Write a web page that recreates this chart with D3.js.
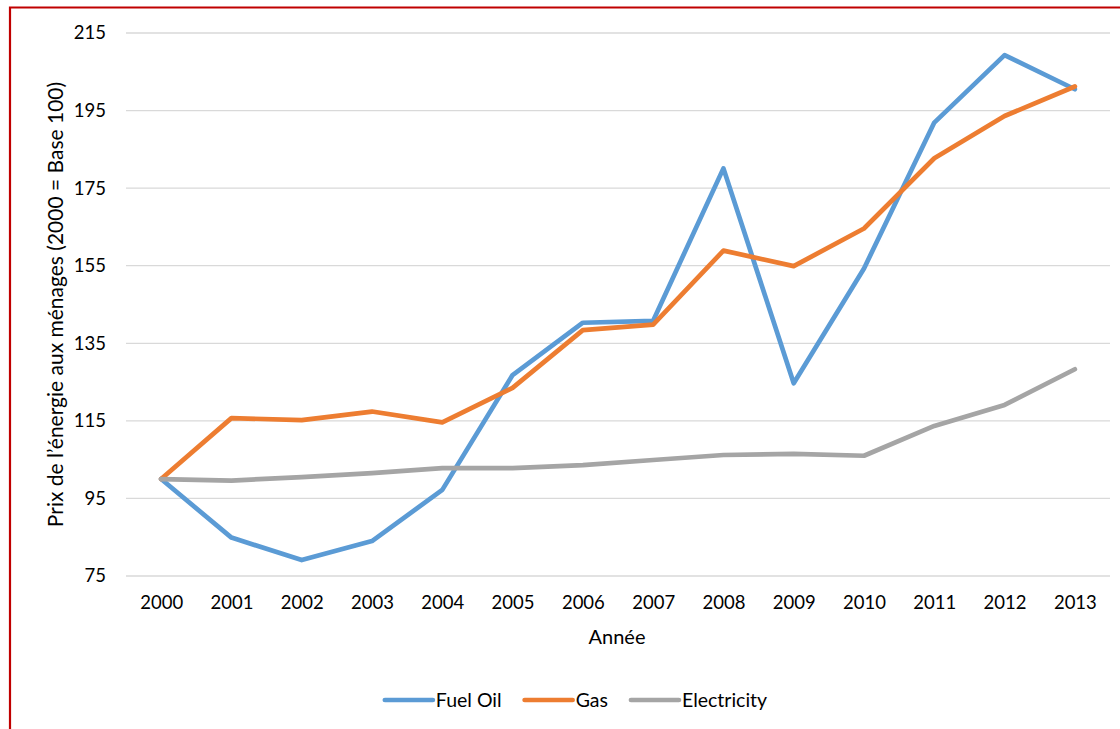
<!DOCTYPE html>
<html>
<head>
<meta charset="utf-8">
<script src="https://cdn.jsdelivr.net/npm/d3@7"></script>
<style>
  html, body { margin: 0; padding: 0; background: #fff; }
  svg { display: block; font-family: Lato, "Open Sans", sans-serif; }
</style>
</head>
<body>
<div id="chart"></div>
<script>
const years = ["2000", "2001", "2002", "2003", "2004", "2005", "2006", "2007",
               "2008", "2009", "2010", "2011", "2012", "2013"];
const fuelOil = [100, 84.9, 79.1, 84, 97.2, 126.8, 140.3, 140.8, 180.1, 124.7, 154.3, 191.9, 209.3, 200.5];
const gas = [100, 115.7, 115.2, 117.4, 114.6, 123.5, 138.4, 139.8, 158.9, 154.9, 164.6, 182.7, 193.6, 201.2];
const electricity = [100, 99.6, 100.5, 101.5, 102.8, 102.8, 103.6, 104.9, 106.2, 106.5, 106, 113.7, 119.1, 128.3];
const yTicks = [75, 95, 115, 135, 155, 175, 195, 215];

const series = [
  { name: "Fuel Oil", values: fuelOil, color: "#5B9BD5" },
  { name: "Gas", values: gas, color: "#ED7D31" },
  { name: "Electricity", values: electricity, color: "#A5A5A5" }
];

const W = 1120, H = 729;
const margin = { top: 33, right: 10, bottom: 153, left: 126 };
const width = W - margin.left - margin.right;
const height = H - margin.top - margin.bottom;

const svg = d3.select("#chart").append("svg")
  .attr("width", W)
  .attr("height", H);

// red frame (left + top only are visible)
svg.append("path")
  .attr("d", `M10,${H} L10,7.5 L${W},7.5`)
  .attr("fill", "none")
  .attr("stroke", "#C00000")
  .attr("stroke-width", 2.2);

const g = svg.append("g")
  .attr("transform", `translate(${margin.left},${margin.top})`);

const x = d3.scalePoint()
  .domain(years)
  .range([0, width])
  .padding(0.5);

const y = d3.scaleLinear()
  .domain([75, 215])
  .range([height, 0]);

// gridlines
g.append("g")
  .selectAll("line")
  .data(yTicks)
  .enter()
  .append("line")
  .attr("x1", 0)
  .attr("x2", width)
  .attr("y1", d => y(d))
  .attr("y2", d => y(d))
  .attr("stroke", "#D9D9D9")
  .attr("stroke-width", 1.3);

const yAxis = g.append("g")
  .call(d3.axisLeft(y).tickValues(yTicks).tickSize(0).tickPadding(20));
yAxis.select(".domain").remove();
yAxis.selectAll("text")
  .attr("font-family", "Lato, 'Open Sans', sans-serif")
  .attr("font-size", "18.5px")
  .attr("fill", "#000");

const xAxis = g.append("g")
  .attr("transform", `translate(0,${height})`)
  .call(d3.axisBottom(x).tickSize(0).tickPadding(20));
xAxis.select(".domain").remove();
xAxis.selectAll("text")
  .attr("font-family", "Lato, 'Open Sans', sans-serif")
  .attr("font-size", "18.5px")
  .attr("fill", "#000");

const line = d3.line()
  .x((d, i) => x(years[i]))
  .y(d => y(d));

g.selectAll(".series")
  .data(series)
  .enter()
  .append("path")
  .attr("class", "series")
  .attr("d", d => line(d.values))
  .attr("fill", "none")
  .attr("stroke", d => d.color)
  .attr("stroke-width", 4.7)
  .attr("stroke-linejoin", "round")
  .attr("stroke-linecap", "round");

// axis titles
svg.append("text")
  .attr("x", 617)
  .attr("y", 644)
  .attr("text-anchor", "middle")
  .attr("font-size", "20px")
  .text("Année");

svg.append("text")
  .attr("transform", `translate(63,${margin.top + height / 2}) rotate(-90)`)
  .attr("text-anchor", "middle")
  .attr("font-size", "21px")
  .text("Prix de l’énergie aux ménages (2000 = Base 100)");

// legend
const legend = svg.append("g").attr("transform", "translate(0,700)");
let lx = 0;
const items = [];
series.forEach(s => {
  const item = legend.append("g");
  item.append("line")
    .attr("x1", 0).attr("x2", 48)
    .attr("y1", 0).attr("y2", 0)
    .attr("stroke", s.color)
    .attr("stroke-width", 4.7)
    .attr("stroke-linecap", "round");
  const t = item.append("text")
    .attr("x", 51)
    .attr("y", 7)
    .attr("font-size", "19.5px")
    .text(s.name);
  const w = 51 + t.node().getComputedTextLength();
  items.push({ item, left: lx });
  lx += w + 23;
});
const total = lx - 23;
const start = 576 - total / 2;
items.forEach(d => d.item.attr("transform", `translate(${start + d.left},0)`));
</script>
</body>
</html>
